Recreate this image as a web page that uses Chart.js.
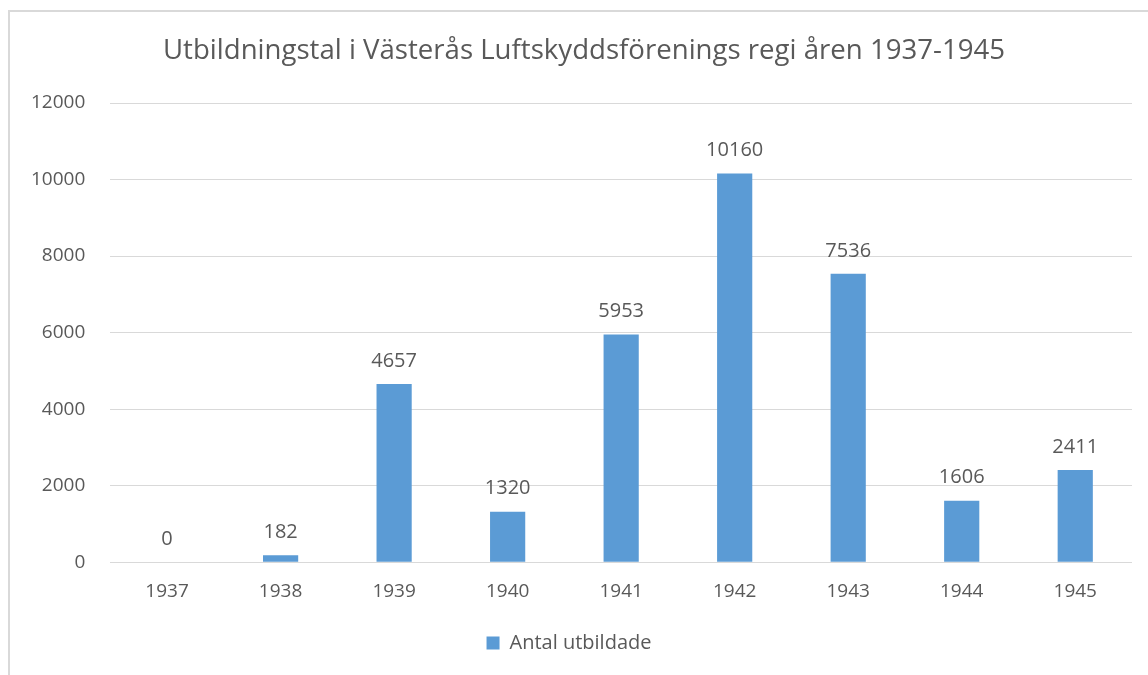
<!DOCTYPE html>
<html>
<head>
<meta charset="utf-8">
<script src="https://cdn.jsdelivr.net/npm/chart.js@4.4.0/dist/chart.umd.min.js"></script>
<style>
  html, body { margin: 0; padding: 0; background: #fff; overflow: hidden; }
  #frame { position: absolute; left: 8px; top: 10px; width: 1200px; height: 700px; border: 2px solid #d9d9d9; box-sizing: border-box; }
  #wrap { position: absolute; left: 0; top: 0; width: 1148px; height: 675px; }
</style>
</head>
<body>
<div id="frame"></div>
<div id="wrap"><canvas id="myChart" width="1148" height="675"></canvas></div>
<script>
// Data
const title = 'Utbildningstal i Västerås Luftskyddsförenings regi åren 1937-1945';
const years = ["1937", "1938", "1939", "1940", "1941", "1942", "1943", "1944", "1945"];
const trained = [0, 182, 4657, 1320, 5953, 10160, 7536, 1606, 2411];
const yTicks = [0, 2000, 4000, 6000, 8000, 10000, 12000];

const textColor = '#595959';
const font = '"Open Sans", sans-serif';

// labels above the bars + title (the original chart box is wider than the screenshot,
// so the title is centred a bit right of the canvas centre)
const barLabels = {
    id: 'barLabels',
    afterDatasetsDraw(chart) {
        const ctx = chart.ctx;
        const meta = chart.getDatasetMeta(0);
        ctx.save();
        ctx.font = '20px ' + font;
        ctx.fillStyle = textColor;
        ctx.textAlign = 'center';
        ctx.textBaseline = 'bottom';
        meta.data.forEach((bar, i) => {
            ctx.fillText(String(trained[i]), bar.x, bar.y - 13);
        });
        ctx.font = '27.6px ' + font;
        ctx.textBaseline = 'middle';
        ctx.fillText(title, 584, 51);
        ctx.restore();
    }
};

const data = {
    labels: years,
    datasets: [{
        label: 'Antal utbildade',
        data: trained,
        backgroundColor: '#5B9BD5',
        barPercentage: 0.31,
        categoryPercentage: 1.0
    }]
};

const config = {
    type: 'bar',
    data,
    options: {
        responsive: false,
        animation: false,
        layout: { padding: { left: 6, right: 16, top: 103, bottom: 12 } },
        plugins: {
            title: { display: false },
            legend: {
                position: 'bottom',
                labels: {
                    color: textColor,
                    font: { family: font, size: 20 },
                    boxWidth: 13,
                    boxHeight: 13,
                    padding: 12
                }
            },
            tooltip: { enabled: false }
        },
        scales: {
            x: {
                grid: { display: false, drawTicks: false },
                border: { display: false },
                ticks: { color: textColor, font: { family: font, size: 19 }, padding: 18 }
            },
            y: {
                min: 0,
                max: 12000,
                afterBuildTicks(scale) { scale.ticks = yTicks.map(v => ({ value: v })); },
                grid: { color: '#d9d9d9', lineWidth: 1, drawTicks: false },
                border: { display: false },
                ticks: {
                    color: textColor,
                    font: { family: font, size: 19 },
                    padding: 25,
                    callback: (v) => String(v)
                }
            }
        }
    },
    plugins: [barLabels]
};

var myChart = new Chart(document.getElementById('myChart'), config);
</script>
</body>
</html>
